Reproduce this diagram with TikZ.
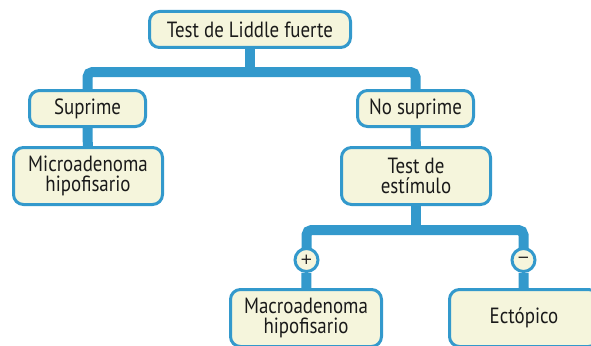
\documentclass[tikz,border=0pt]{standalone}
\usepackage{fontspec}
\setmainfont{PT Sans}[FakeStretch=0.86]
\newfontfamily\signfont{DejaVu Sans}
\usetikzlibrary{backgrounds}
\definecolor{bl}{HTML}{3399CC}
\definecolor{cr}{HTML}{F5F5DC}
\definecolor{tx}{HTML}{1A1A1A}
\tikzset{
  box/.style={draw=bl, line width=3pt, fill=cr, rounded corners=10pt, align=center,
    text=tx, font=\fontsize{22}{20}\selectfont, inner sep=0pt},
  small/.style={box, minimum width=116pt, minimum height=36pt},
  big/.style={box, minimum width=149pt, minimum height=57pt},
  sign/.style={circle, draw=bl, line width=3pt, fill=cr, minimum size=23pt, inner sep=0pt,
    text=tx, font=\signfont\fontsize{15}{15}\selectfont},
  conn/.style={draw=bl, line width=10pt, rounded corners=5pt}
}
\begin{document}
\begin{tikzpicture}[x=1pt,y=-1pt]
\useasboundingbox (0,0) rectangle (591,345);
\clip (0,0) rectangle (591,345);
\node[box, minimum width=201pt, minimum height=36pt] (top) at (250,29.5) {Test de Liddle fuerte};
\node[small] (sup) at (87.5,108.5) {Suprime};
\node[big] (mic) at (88,176) {Microadenoma\\hipofisario};
\node[small] (nos) at (415.5,108.5) {No suprime};
\node[big] (est) at (416,176) {Test de\\estímulo};
\node[big, minimum width=151pt] (mac) at (306,318) {Macroadenoma\\hipofisario};
\node[big] (ect) at (524,318) {Ectópico};
\node[sign] (plus) at (306.5,260) {+};
\node[sign] (minus) at (523.5,260) {−};
\coordinate (b1) at (250,72);
\coordinate (b2) at (416,230);
\begin{scope}[on background layer]
\draw[conn] (top.south) -- (b1);
\draw[conn] (sup.north) |- (b1) -| (nos.north);
\draw[conn] (sup) -- (mic);
\draw[conn] (nos) -- (est);
\draw[conn] (est.south) -- (b2);
\draw[conn] (plus.center) |- (b2) -| (minus.center);
\draw[conn] (plus) -- (mac);
\draw[conn] (minus) -- (ect);
\end{scope}
\end{tikzpicture}
\end{document}
